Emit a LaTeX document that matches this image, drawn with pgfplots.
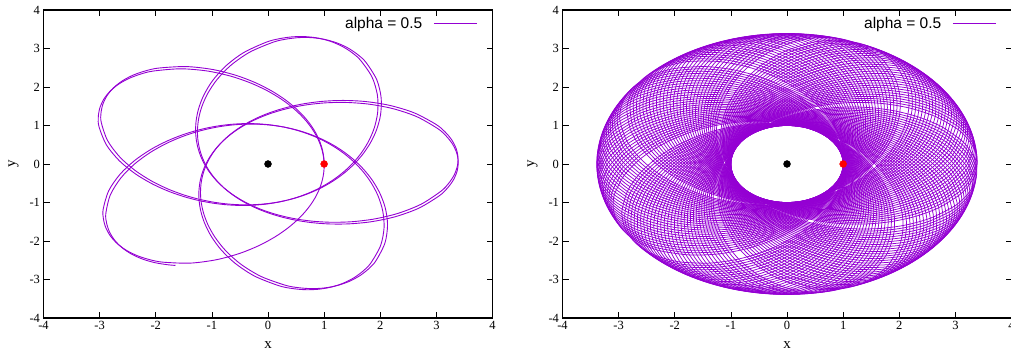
\documentclass[border=0pt]{standalone}
\usepackage{fontspec}
\setmainfont{Liberation Serif}
\newfontfamily\legfont{Liberation Sans}
\usepackage{pgfplots}
\pgfplotsset{compat=1.18}
\usepackage{pgfplotstable}
\definecolor{orb}{HTML}{9400D3}

% one radial period of the orbit, polar: angle from pericentre (deg), radius
\pgfplotstableread{
th r
0 1.0000
8 1.0054
16 1.0217
24 1.0496
32 1.0899
40 1.1441
48 1.2140
56 1.3020
64 1.4110
72 1.5444
80 1.7056
88 1.8977
96 2.1220
104 2.3757
112 2.6492
120 2.9221
128 3.1620
132 3.2572
136 3.3295
140 3.3745
144 3.3898
148 3.3745
152 3.3295
156 3.2572
160 3.1620
168 2.9221
176 2.6492
184 2.3757
192 2.1220
200 1.8977
208 1.7056
216 1.5444
224 1.4110
232 1.3020
240 1.2140
248 1.1441
256 1.0899
264 1.0496
272 1.0217
280 1.0054
288 1.0000
}\orbit

% last, unfinished period of the short run
\pgfplotstableread{
th r
0 1.0000
8 1.0054
16 1.0217
24 1.0496
32 1.0899
40 1.1441
48 1.2140
56 1.3020
64 1.4110
72 1.5444
80 1.7056
88 1.8977
96 2.1220
104 2.3757
112 2.6492
120 2.9221
128 3.1620
132 3.2572
136 3.3295
140 3.3745
144 3.3898
148 3.3745
152 3.3295
156 3.2572
160 3.1620
162 3.1073
}\orbitp

\pgfplotstableread{
x y
0 0
}\sun
\pgfplotstableread{
x y
1 0
}\start

\pgfplotsset{
 panel/.style={
  scale only axis, width=449pt, height=308pt,
  xmin=-4, xmax=4, ymin=-4, ymax=4,
  xtick={-4,-3,-2,-1,0,1,2,3,4}, ytick={-4,-3,-2,-1,0,1,2,3,4},
  xticklabels={-4,-3,-2,-1,0,1,2,3,4}, yticklabels={-4,-3,-2,-1,0,1,2,3,4},
  tick align=inside, major tick length=6pt,
  every tick/.style={black, line width=0.6pt},
  axis line style={line width=1.5pt},
  tick label style={font=\fontsize{12.5}{14}\selectfont},
  xlabel={x}, ylabel={y},
  every axis x label/.style={at={(axis description cs:0.5,0)}, anchor=center, yshift=-27pt, font=\fontsize{15}{17}\selectfont},
  every axis y label/.style={at={(axis description cs:0,0.5)}, anchor=center, xshift=-30pt, rotate=90, font=\fontsize{15}{17}\selectfont},
  legend plot pos=right,
  legend image code/.code={\path (0pt,0pt); \draw[##1] (9pt,0pt) -- (52pt,0pt);},
  legend style={at={(axis description cs:1,1)}, anchor=north east, xshift=-12pt, yshift=-3pt, draw=none, fill=none, font=\legfont\fontsize{15.5}{17}\selectfont},
 }
}

\begin{document}
\begin{tikzpicture}
\useasboundingbox (0,0) rectangle (1011pt,355pt);

\begin{axis}[panel, at={(43.5pt,37pt)}, anchor=south west]
\addlegendimage{orb, line width=1pt}
\addlegendentry{alpha = 0.5}
\pgfplotsinvokeforeach{0,288.44,216.88,145.32,73.76,2.2,290.64,219.08,147.52}{
\addplot[orb, line width=0.9pt, smooth, data cs=polar, forget plot] table[x expr={\thisrow{th}+#1}, y=r]{\orbit};
}
\addplot[orb, line width=0.9pt, smooth, data cs=polar, forget plot] table[x expr={\thisrow{th}+75.96}, y=r]{\orbitp};
\addplot[only marks, mark=*, mark size=3.5pt, black, forget plot] table[x=x,y=y]{\sun};
\addplot[only marks, mark=*, mark size=3.5pt, red, forget plot] table[x=x,y=y]{\start};
\end{axis}

\begin{axis}[panel, at={(562.5pt,37pt)}, anchor=south west]
\addlegendimage{orb, line width=1pt}
\addlegendentry{alpha = 0.5}
\addplot[only marks, mark=*, mark size=3.5pt, black, forget plot] table[x=x,y=y]{\sun};
\addplot[only marks, mark=*, mark size=3.5pt, red, forget plot] table[x=x,y=y]{\start};
\pgfplotsinvokeforeach{0,...,154}{
\addplot[orb, line width=0.75pt, smooth, data cs=polar, forget plot] table[x expr={\thisrow{th}-72*mod(#1,5)+0.44*#1}, y=r]{\orbit};
}
\end{axis}
\end{tikzpicture}
\end{document}
